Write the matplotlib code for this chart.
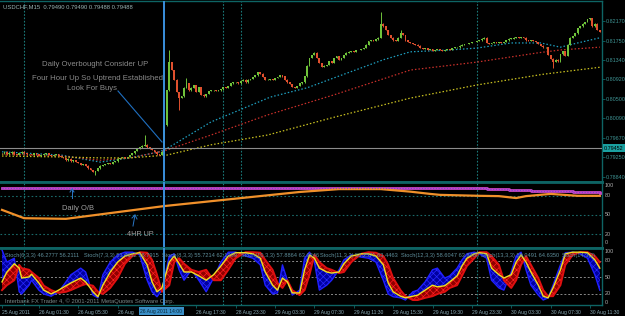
import matplotlib.pyplot as plt

# --- datos: USDCHF M15, 25-30 Aug 2011 ---
closes = [
    0.7934, 0.7937, 0.7932, 0.7934, 0.7937, 0.7932, 0.7930, 0.7934, 0.7937, 0.7934, 0.7932,
    0.7932, 0.7930, 0.7934, 0.7932, 0.7928, 0.7930, 0.7932, 0.7934, 0.7930, 0.7928, 0.7930, 0.7932, 0.7928,
    0.7926, 0.7924, 0.7919, 0.7922, 0.7917, 0.7919, 0.7915,
    0.7913, 0.7909, 0.7911, 0.7907, 0.7902, 0.7898, 0.7894, 0.7896,
    0.7902, 0.7907, 0.7909, 0.7911, 0.7913, 0.7911, 0.7915,
    0.7917, 0.7922, 0.7924, 0.7926, 0.7924, 0.7926, 0.7930,
    0.7934, 0.7939, 0.7943, 0.7947, 0.7950, 0.7952,
    0.7947, 0.7943, 0.7941, 0.7937, 0.7932, 0.7930, 0.7937,
    0.7994, 0.8069, 0.8129, 0.8112, 0.8091, 0.8065, 0.8052, 0.8056, 0.8074, 0.8084,
    0.8069, 0.8074, 0.8080, 0.8065, 0.8076, 0.8059, 0.8056, 0.8061, 0.8067, 0.8069,
    0.8069, 0.8067, 0.8069, 0.8071,
    0.8076, 0.8074, 0.8078, 0.8084, 0.8086, 0.8086, 0.8084, 0.8089, 0.8091, 0.8086, 0.8091,
    0.8093, 0.8097, 0.8101, 0.8108, 0.8104, 0.8097, 0.8091, 0.8091, 0.8093, 0.8091,
    0.8095, 0.8097, 0.8101, 0.8099, 0.8091, 0.8086, 0.8082, 0.8076, 0.8074, 0.8078,
    0.8084, 0.8086, 0.8099, 0.8121, 0.8138, 0.8144, 0.8149, 0.8138, 0.8127, 0.8119,
    0.8121, 0.8123, 0.8131, 0.8127, 0.8138, 0.8142, 0.8134, 0.8138, 0.8144, 0.8149,
    0.8151, 0.8153, 0.8151, 0.8155, 0.8155, 0.8157, 0.8159, 0.8166, 0.8174, 0.8176,
    0.8174, 0.8178, 0.8181, 0.8211, 0.8206, 0.8198, 0.8187, 0.8181, 0.8176, 0.8174,
    0.8181, 0.8191, 0.8187, 0.8176, 0.8172, 0.8170, 0.8168, 0.8166, 0.8164, 0.8159,
    0.8157, 0.8159, 0.8155, 0.8157, 0.8153, 0.8155, 0.8157, 0.8155, 0.8153, 0.8155,
    0.8157, 0.8155, 0.8159, 0.8161, 0.8161, 0.8164, 0.8166, 0.8168, 0.8168, 0.8170,
    0.8172, 0.8172, 0.8174, 0.8176, 0.8179, 0.8181, 0.8170, 0.8168, 0.8170, 0.8172,
    0.8170, 0.8172, 0.8170, 0.8172, 0.8176, 0.8179, 0.8179, 0.8181, 0.8183, 0.8181,
    0.8183, 0.8181, 0.8176, 0.8174, 0.8176, 0.8174, 0.8172, 0.8168, 0.8164, 0.8161,
    0.8161, 0.8144, 0.8136, 0.8129, 0.8134, 0.8131, 0.8146, 0.8153, 0.8142, 0.8166,
    0.8181, 0.8185, 0.8191, 0.8202, 0.8206, 0.8211, 0.8215, 0.8221, 0.8223, 0.8206, 0.8211, 0.8198, 0.8194,
]
high_spikes = {58: 0.7973, 66: 0.7996, 68: 0.8155, 75: 0.8095, 154: 0.8236, 162: 0.8198}
low_spikes = {38: 0.7887, 66: 0.7930, 72: 0.8026, 224: 0.8116}

# medias moviles (barra, precio)
ma_cyan_bars = [0, 24, 40, 52, 64, 68, 85, 109, 124, 155, 166, 182, 193, 207, 219, 227, 234, 243]
ma_cyan = [0.7937, 0.7930, 0.7915, 0.7924, 0.7937, 0.7947, 0.8001, 0.8054, 0.8074, 0.8134,
           0.8151, 0.8155, 0.8159, 0.8170, 0.8170, 0.8161, 0.8170, 0.8181]
ma_red_bars = [0, 24, 40, 52, 66, 85, 108, 135, 166, 193, 218, 227, 243]
ma_red = [0.7932, 0.7928, 0.7919, 0.7924, 0.7939, 0.7973, 0.8016, 0.8059, 0.8112, 0.8129,
          0.8149, 0.8155, 0.8161]
ma_yellow_bars = [0, 24, 40, 52, 67, 85, 108, 135, 166, 193, 220, 243]
ma_yellow = [0.7928, 0.7926, 0.7924, 0.7924, 0.7930, 0.7952, 0.7973, 0.8011, 0.8052, 0.8080,
             0.8103, 0.8118]

price_ticks = [0.82170, 0.81750, 0.81340, 0.80920, 0.80500, 0.80090, 0.79670, 0.79250, 0.78840]

# indicador 1 (MTF stochastic D1 / H4)
daily_bars = [0, 166, 197, 206, 215, 232, 243]
daily_vals = [92, 91.5, 90, 89, 88, 86.5, 85]
h4_bars = [0, 9, 26, 48, 60, 66, 81, 101, 121, 137, 154, 166, 174, 178, 194, 202, 209, 213, 223, 234, 243]
h4_vals = [58, 45, 44, 55, 61, 64, 70, 78, 86, 90.5, 90.5, 86.5, 83, 81.5, 80, 79.5, 76.5, 79.5, 83, 80, 80]

# indicador 2 (abanico de estocasticos)
st_bars = [0, 2, 5, 7, 8, 11, 12, 15, 17, 20,
           23, 26, 28, 32, 34, 37, 39, 41, 44, 47,
           50, 53, 56, 59, 61, 63, 65, 68, 70, 72,
           74, 77, 80, 83, 86, 89, 92, 95, 99, 102,
           105, 107, 110, 112, 114, 116, 118, 121, 123, 125,
           127, 129, 132, 134, 137, 139, 142, 146, 149, 152,
           155, 157, 159, 162, 164, 167, 169, 172, 175, 177,
           180, 182, 185, 187, 189, 192, 194, 197, 199, 202,
           204, 207, 209, 211, 213, 215, 218, 220, 222, 224,
           227, 229, 232, 235, 238, 241, 243]
st_main = [42, 60, 75, 67, 49, 51, 56, 40, 27, 20,
           27, 35, 40, 49, 42, 24, 15, 36, 60, 78,
           89, 93, 95, 73, 42, 24, 31, 78, 89, 75,
           60, 60, 53, 45, 55, 71, 89, 95, 95, 93,
           85, 60, 36, 27, 49, 42, 22, 22, 64, 91,
           85, 67, 60, 58, 60, 75, 89, 93, 93, 89,
           73, 40, 24, 16, 13, 16, 18, 27, 36, 33,
           35, 42, 53, 71, 85, 93, 95, 93, 67, 55,
           49, 55, 78, 91, 78, 60, 36, 16, 13, 31,
           64, 93, 96, 96, 95, 82, 67]
st_fast = [100, 78, 85, 24, 20, 36, 45, 27, 20, 16,
           24, 42, 55, 67, 60, 18, 13, 55, 78, 91,
           96, 96, 91, 45, 24, 15, 27, 89, 93, 64,
           45, 64, 45, 24, 49, 78, 96, 96, 89, 85,
           73, 36, 20, 22, 73, 45, 18, 27, 85, 96,
           78, 27, 36, 45, 64, 82, 91, 87, 85, 78,
           45, 20, 15, 13, 9, 24, 27, 42, 64, 67,
           49, 53, 67, 82, 93, 96, 93, 85, 45, 31,
           27, 60, 89, 96, 64, 36, 18, 9, 13, 36,
           73, 95, 96, 93, 85, 55, 27]
st_slow = [27, 36, 45, 73, 67, 64, 60, 49, 35, 27,
           22, 24, 27, 35, 38, 35, 24, 20, 31, 49,
           75, 89, 96, 95, 82, 55, 24, 36, 78, 85,
           75, 64, 60, 64, 45, 45, 64, 85, 96, 96,
           95, 82, 64, 40, 31, 45, 27, 18, 27, 55,
           91, 78, 67, 64, 58, 60, 78, 93, 96, 95,
           89, 73, 49, 27, 16, 9, 9, 13, 16, 20,
           24, 31, 36, 53, 71, 85, 96, 96, 89, 73,
           45, 31, 45, 73, 89, 73, 49, 27, 16, 16,
           36, 73, 91, 96, 96, 89, 78]
stoch_labels = ["Stoch(6,3,3) 46.2777 56.2111", "Stoch(7,3,3) 51.0832 58.7915",
                "Stoch(8,3,3) 55.7214 62.1399", "Stoch(10,3,3) 57.8864 63.0346",
                "Stoch(11,3,3) 58.2571 63.4463", "Stoch(12,3,3) 58.6047 63.8480",
                "Stoch(13,3,3) 59.0491 64.6350", "Stoch(14,3,3)"]
stoch_label_x = [5, 84, 162, 241, 320, 401, 481, 562]

# la etiqueta de 13:30 queda tapada por la caja del cursor
time_bars = [0, 15, 31, 47, 79, 95, 111, 127, 143, 159, 175, 191, 207, 223, 239]
time_labels = ["25 Aug 2011", "26 Aug 01:30", "26 Aug 05:30", "26 Aug",
               "26 Aug 17:30", "28 Aug 23:30", "29 Aug 03:30", "29 Aug 07:30", "29 Aug 11:30",
               "29 Aug 15:30", "29 Aug 19:30", "29 Aug 23:30", "30 Aug 03:30", "30 Aug 07:30",
               "30 Aug 11:30"]
day_separators = [9, 90, 97, 193]
cursor_bar = 66
cursor_price = 0.79452

# --- figura ---
W, H = 625, 316
TEAL = '#0e6464'
plt.rcParams['font.family'] = ['Liberation Sans', 'DejaVu Sans']
plt.rcParams['hatch.linewidth'] = 0.5

fig = plt.figure(figsize=(W / 100, H / 100), dpi=100, facecolor='black')


def rect(x0, y0, x1, y1):
    return [x0 / W, 1 - y1 / H, (x1 - x0) / W, (y1 - y0) / H]


def fx(x):
    return x / W


def fy(y):
    return 1 - y / H


ax = fig.add_axes(rect(0, 1, 602, 182))
ax1 = fig.add_axes(rect(0, 182, 602, 248), sharex=ax)
ax2 = fig.add_axes(rect(0, 248, 602, 305), sharex=ax)

for a in (ax, ax1, ax2):
    a.set_facecolor('black')
    for s in a.spines.values():
        s.set_color(TEAL)
        s.set_linewidth(1)
    a.spines['left'].set_visible(False)
    a.tick_params(axis='x', bottom=False, labelbottom=False)
    for b in day_separators:
        a.axvline(b, color='#1a7a7a', lw=0.8, ls=(0, (1.5, 1.5)), zorder=1)
ax.spines['bottom'].set_linewidth(2)
ax1.spines['top'].set_linewidth(2)
ax1.spines['bottom'].set_linewidth(2)
ax2.spines['top'].set_linewidth(2)
ax.set_xlim(-0.81, 243.9)

# velas
bars = list(range(len(closes)))
opens = [closes[0]] + closes[:-1]
wick = 0.00008
colors, bottoms, heights, highs, lows = [], [], [], [], []
for i, (o, c) in enumerate(zip(opens, closes)):
    colors.append('#6fc23a' if c >= o else '#e0502e')
    bottoms.append(min(o, c))
    heights.append(max(abs(c - o), 0.00006))
    highs.append(high_spikes.get(i, max(o, c) + wick))
    lows.append(low_spikes.get(i, min(o, c) - wick))
ax.vlines(bars, lows, highs, colors=colors, lw=0.7, zorder=3)
ax.bar(bars, heights, bottom=bottoms, width=0.75, color=colors, linewidth=0, zorder=3)

ax.plot(ma_cyan_bars, ma_cyan, color='#1f9fbf', lw=0.9, ls=(0, (1.2, 1.6)), zorder=2)
ax.plot(ma_red_bars, ma_red, color='#c8302a', lw=0.9, ls=(0, (1.2, 1.6)), zorder=2)
ax.plot(ma_yellow_bars, ma_yellow, color='#c8c020', lw=0.9, ls=(0, (1.2, 1.6)), zorder=2)

ax.set_ylim(0.78724, 0.82598)
ax.yaxis.tick_right()
ax.set_yticks(price_ticks)
ax.set_yticklabels([f'{p:.5f}' for p in price_ticks])
ax.tick_params(axis='y', colors=TEAL, labelcolor='#3f9494', labelsize=3.9, length=2, width=0.6, pad=1)

ax.axhline(cursor_price, color='#8c8c8c', lw=0.8, zorder=4)
for a in (ax, ax1, ax2):
    a.axvline(cursor_bar, color='#3a8fdc', lw=1.4, zorder=6)

fig.text(fx(3), fy(7), 'USDCHF,M15  0.79490 0.79490 0.79488 0.79488', color='#9ab4b4',
         fontsize=4.2, va='center', ha='left')
note_color = '#8a8a8a'
fig.text(fx(95), fy(65), 'Daily Overbought Consider UP', color=note_color, fontsize=5.6, ha='center', va='center')
fig.text(fx(97), fy(78), 'Four Hour Up So Uptrend Established', color=note_color, fontsize=5.6, ha='center', va='center')
fig.text(fx(92), fy(89), 'Look For Buys', color=note_color, fontsize=5.6, ha='center', va='center')
fig.add_artist(plt.Line2D([fx(118), fx(162)], [fy(91), fy(142)], color='#1f6fc0', lw=0.8))

fig.text(fx(604), fy(148), f'{cursor_price:.5f}', color='black', fontsize=3.9, ha='left', va='center',
         bbox=dict(boxstyle='square,pad=0.25', fc='#1aa0a0', ec='none'))

# indicador 1
ax1.set_ylim(-1.6, 101.6)
ax1.set_yticks([])
for lvl in (80, 50, 20):
    ax1.axhline(lvl, color='#1a6a6a', lw=0.8, ls=(0, (1.5, 2)), zorder=1)
ax1.plot(daily_bars, daily_vals, color='#c848c8', lw=2, drawstyle='steps-post', zorder=3)
ax1.plot(daily_bars, daily_vals, color='#7a3fd0', lw=0.8, ls=(0, (1, 1.5)), drawstyle='steps-post', zorder=4)
ax1.plot(h4_bars, h4_vals, color='#f0902a', lw=1.6, zorder=3)
for v, lab, va in ((100, '100', 'top'), (80, '80', 'center'), (50, '50', 'center'), (20, '20', 'center'), (3, '0', 'bottom')):
    ax1.text(1.004, v, lab, transform=ax1.get_yaxis_transform(), color='#b0b0b0', fontsize=3.9, va=va, ha='left')

fig.text(fx(78), fy(209), 'Daily O/B', color='#a0a0a0', fontsize=5.4, ha='center', va='center')
fig.text(fx(140), fy(235), '4HR UP', color='#a0a0a0', fontsize=5.2, ha='center', va='center')
fig.add_artist(plt.Line2D([fx(72), fx(72)], [fy(198), fy(189)], color='#2a78c8', lw=0.7))
fig.add_artist(plt.Line2D([fx(70), fx(72), fx(74)], [fy(192), fy(189), fy(192)], color='#2a78c8', lw=0.7))
fig.add_artist(plt.Line2D([fx(133), fx(135)], [fy(226), fy(215)], color='#2a78c8', lw=0.7))
fig.add_artist(plt.Line2D([fx(132), fx(135), fx(137)], [fy(218), fy(215), fy(219)], color='#2a78c8', lw=0.7))

# indicador 2
ax2.set_ylim(0, 103.6)
ax2.set_yticks([])
for lvl in (80, 50, 20):
    ax2.axhline(lvl, color='#8a8a8a', lw=0.7, ls=(0, (2, 2)), zorder=1)
for x, lab in zip(stoch_label_x, stoch_labels):
    fig.text(fx(x), fy(255), lab, color='#5f8f9c', fontsize=4.1, ha='left', va='center', zorder=0)
ax2.fill_between(st_bars, st_main, st_fast, facecolor='#0000a0', edgecolor='#2a2aff',
                 hatch='xxxxx', lw=0, zorder=2)
ax2.fill_between(st_bars, st_main, st_slow, facecolor='#900000', edgecolor='#ff2020',
                 hatch='xxxxx', lw=0, zorder=3)
ax2.plot(st_bars, st_fast, color='#2020ff', lw=1.0, zorder=2)
ax2.plot(st_bars, st_slow, color='#e01010', lw=1.4, zorder=3)
ax2.plot(st_bars, st_main, color='#f0e020', lw=1.0, zorder=5)
for v, lab, va in ((101, '100', 'top'), (80, '80', 'center'), (50, '50', 'center'), (20, '20', 'center'), (0, '0', 'bottom')):
    ax2.text(1.004, v, lab, transform=ax2.get_yaxis_transform(), color='#b0b0b0', fontsize=3.9, va=va, ha='left')
fig.text(fx(5), fy(301), 'Interbank FX Trader 4, \u00a9 2001-2011 MetaQuotes Software Corp.',
         color='#7a8a8a', fontsize=4.2, ha='left', va='center')

ax2.tick_params(axis='x', bottom=True, labelbottom=True, colors=TEAL, labelcolor='#8aaab5',
                labelsize=3.6, length=2, width=0.6, pad=1.5)
ax2.set_xticks(time_bars)
ax2.set_xticklabels(time_labels)
for t in ax2.get_xticklabels():
    t.set_ha('left')

fig.text(fx(140), fy(311), '26 Aug 2011 14:00', color='#0a2a3a', fontsize=3.6, ha='left', va='center',
         bbox=dict(boxstyle='square,pad=0.3', fc='#3a8fc8', ec='none'))

fig.savefig('out.png', dpi=100, facecolor='black')
